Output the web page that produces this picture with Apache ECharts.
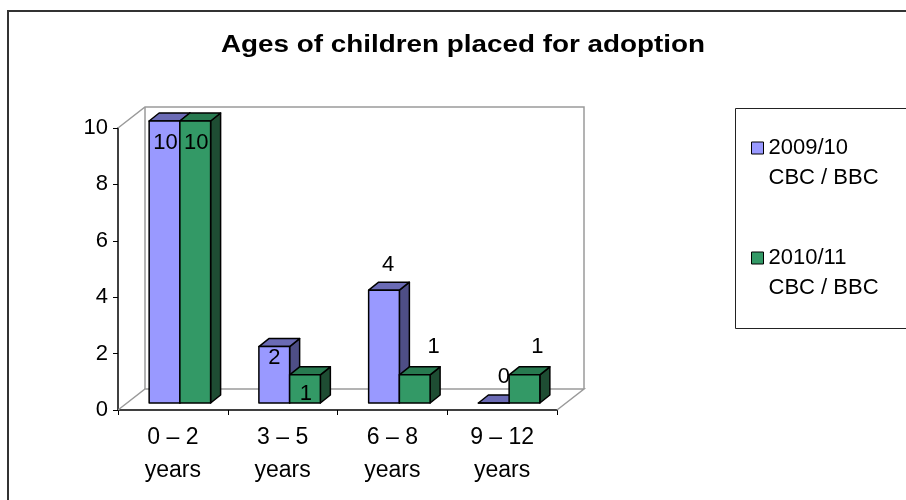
<!DOCTYPE html>
<html>
<head>
<meta charset="utf-8">
<title>Ages of children placed for adoption</title>
<script src="https://cdn.jsdelivr.net/npm/echarts@6/dist/echarts.min.js"></script>
<style>
  html, body { margin: 0; padding: 0; background: #ffffff; }
  #chart { width: 906px; height: 500px; }
</style>
</head>
<body>
<div id="chart"></div>
<script>
// ---- data ----
const chartTitle = 'Ages of children placed for adoption';
const categories = ['0 – 2\nyears', '3 – 5\nyears', '6 – 8\nyears', '9 – 12\nyears'];
const seriesNames = ['2009/10\nCBC / BBC', '2010/11\nCBC / BBC'];
const values2009 = [10, 2, 4, 0];
const values2010 = [10, 1, 1, 1];
const yMin = 0, yMax = 10, yStep = 2;

// ---- look ----
const FONT = '"Liberation Sans", Arial, Helvetica, sans-serif';
const faces = [
  { front: '#9999FF', top: '#6B6BB5', side: '#4E4E86' },
  { front: '#339966', top: '#287A50', side: '#1E4D33' }
];
const WALL_DEPTH = [27, -21];   // offset of back wall from front plane
const BAR_SHIFT = [7, -7];      // bars sit a little behind the front plane
const BAR_DEPTH = [10, -8];     // thickness of each bar
const BAR_FRACTION = 0.28;      // share of category band per bar
// where each value label sits, relative to the top-front centre of its bar
const labelNudge = [
  [[1, 22], [0, 11], [4, -25], [10, -26]],
  [[1, 22], [1, 19], [19, -28], [13, -28]]
];

const chart = echarts.init(document.getElementById('chart'), null, { renderer: 'canvas' });

function wallRenderer(params, api) {
  const cs = params.coordSys;
  const L = cs.x, R = cs.x + cs.width, T = cs.y, B = cs.y + cs.height;
  const dx = WALL_DEPTH[0], dy = WALL_DEPTH[1];
  const style = { fill: null, stroke: '#9a9a9a', lineWidth: 1.5 };
  return {
    type: 'group',
    children: [
      { type: 'polyline', shape: { points: [[L, B], [L + dx, B + dy], [R + dx, B + dy], [R, B]] }, style },
      { type: 'polyline', shape: { points: [[L, T], [L + dx, T + dy], [R + dx, T + dy], [R + dx, B + dy]] }, style },
      { type: 'line', shape: { x1: L + dx, y1: B + dy, x2: L + dx, y2: T + dy }, style }
    ]
  };
}

function barRenderer(si) {
  return function (params, api) {
    const cat = api.value(0), val = api.value(1);
    const base = api.coord([cat, 0]);
    const tip = api.coord([cat, val]);
    const band = api.size([1, 0])[0];
    const w = band * BAR_FRACTION;
    const cx = base[0] + BAR_SHIFT[0];
    const x0 = si === 0 ? cx - w : cx;
    const x1 = x0 + w;
    const yb = base[1] + BAR_SHIFT[1];
    const yt = tip[1] + BAR_SHIFT[1];
    const dx = BAR_DEPTH[0], dy = BAR_DEPTH[1];
    const f = faces[si];
    const edge = { stroke: '#000000', lineWidth: 1.5, lineJoin: 'round' };
    const nudge = labelNudge[si][params.dataIndex];
    return {
      type: 'group',
      children: [
        { type: 'polygon', shape: { points: [[x1, yb], [x1 + dx, yb + dy], [x1 + dx, yt + dy], [x1, yt]] },
          style: Object.assign({ fill: f.side }, edge) },
        { type: 'polygon', shape: { points: [[x0, yt], [x1, yt], [x1 + dx, yt + dy], [x0 + dx, yt + dy]] },
          style: Object.assign({ fill: f.top }, edge) },
        { type: 'rect', shape: { x: x0, y: yt, width: w, height: yb - yt },
          style: Object.assign({ fill: f.front }, edge) },
        { type: 'text', x: (x0 + x1) / 2 + nudge[0], y: yt + nudge[1], z2: 20,
          style: { text: String(val), fill: '#000000', font: '22px ' + FONT, align: 'center', verticalAlign: 'middle' } }
      ]
    };
  };
}

const option = {
  backgroundColor: '#ffffff',
  animation: false,
  legend: {
    orient: 'vertical',
    left: 751,
    top: 103,
    padding: 0,
    itemWidth: 12,
    itemHeight: 12,
    itemGap: 20,
    icon: 'rect',
    data: seriesNames,
    // leading blank line keeps the first text line level with the swatch
    formatter: name => '\n' + name,
    itemStyle: { borderColor: '#000000', borderWidth: 1 },
    textStyle: { fontFamily: FONT, fontSize: 22, lineHeight: 30, color: '#000000' }
  },
  grid: { left: 118, right: 349, top: 128, bottom: 90, outerBoundsMode: 'none' },
  xAxis: {
    type: 'category',
    data: categories,
    axisLine: { show: true, lineStyle: { color: '#000000', width: 1.5 } },
    axisTick: { show: true, length: 5, lineStyle: { color: '#000000' } },
    axisLabel: { interval: 0, margin: 11, fontFamily: FONT, fontSize: 23, lineHeight: 33, color: '#000000' },
    splitLine: { show: false }
  },
  yAxis: {
    type: 'value',
    min: yMin, max: yMax, interval: yStep,
    axisLine: { show: true, lineStyle: { color: '#000000', width: 1.5 } },
    axisTick: { show: true, length: 5, lineStyle: { color: '#000000' } },
    axisLabel: { margin: 10, fontFamily: FONT, fontSize: 22, color: '#000000' },
    splitLine: { show: false }
  },
  graphic: [
    { type: 'rect', silent: true, shape: { x: 8, y: 11, width: 920, height: 520 },
      style: { fill: null, stroke: '#333333', lineWidth: 2 } },
    { type: 'rect', silent: true, shape: { x: 735.5, y: 108.5, width: 200, height: 220 },
      style: { fill: null, stroke: '#222222', lineWidth: 1 } },
    // heading, widened to the chart's stretched title lettering
    { type: 'text', silent: true, x: 463, y: 46, scaleX: 1.21,
      style: { text: chartTitle, font: 'bold 23px ' + FONT, fill: '#000000', align: 'center', verticalAlign: 'middle' } }
  ],
  series: [
    { type: 'custom', name: 'walls', silent: true, renderItem: wallRenderer, data: [[0]], z: 1 },
    { type: 'custom', name: seriesNames[0], renderItem: barRenderer(0), color: faces[0].front,
      data: values2009.map((v, i) => [i, v]), encode: { x: 0, y: 1 }, z: 2 },
    { type: 'custom', name: seriesNames[1], renderItem: barRenderer(1), color: faces[1].front,
      data: values2010.map((v, i) => [i, v]), encode: { x: 0, y: 1 }, z: 3 }
  ]
};

chart.setOption(option);
</script>
</body>
</html>
